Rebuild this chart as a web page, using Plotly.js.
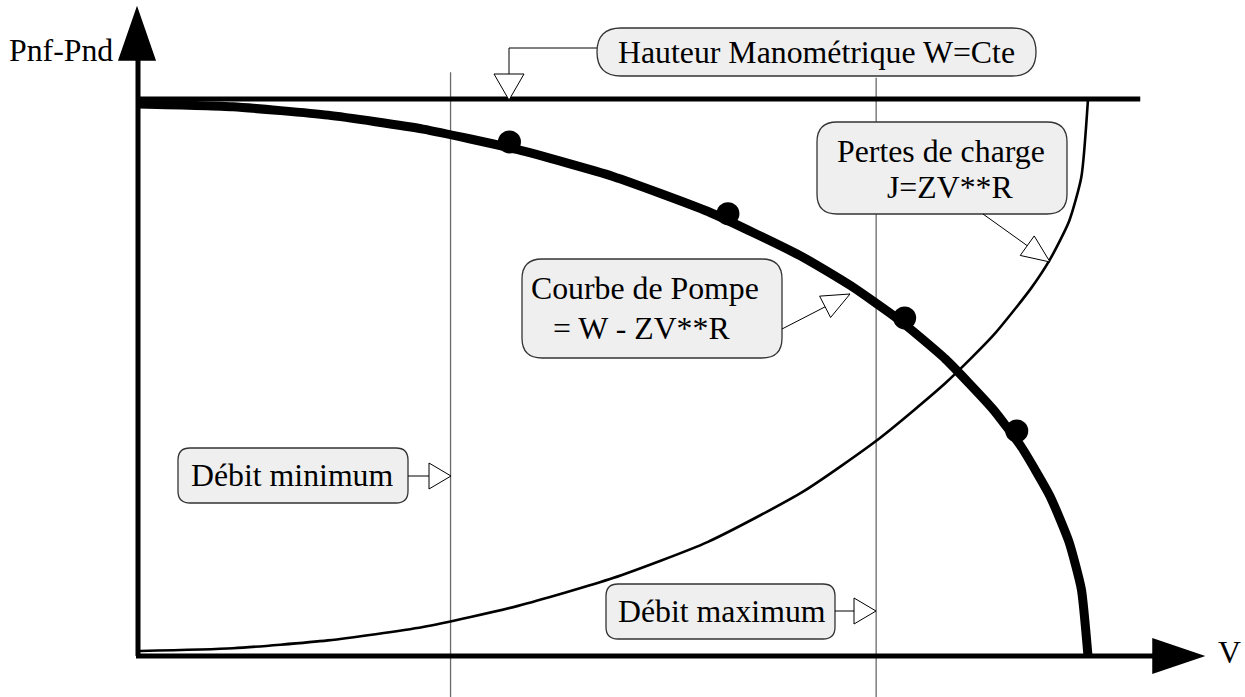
<!DOCTYPE html>
<html>
<head>
<meta charset="utf-8">
<script src="https://cdn.plot.ly/plotly-3.0.1.min.js"></script>
<style>html,body{margin:0;padding:0;background:#fff;}#chart{width:1245px;height:697px;}</style>
</head>
<body>
<div id="chart"></div>
<script>
// ---- Data (normalised: V = flow, P = Pnf-Pnd, W = 1) ----
const pumpV = [0, 0.1, 0.2, 0.3, 0.4, 0.5, 0.6, 0.7, 0.75, 0.8, 0.85, 0.9, 0.93, 0.96, 0.98, 0.993, 1.0];
const pumpP = [0.991, 0.986, 0.971, 0.946, 0.909, 0.861, 0.798, 0.716, 0.665, 0.605, 0.533, 0.443, 0.375, 0.287, 0.205, 0.12, 0.0];
const lossV = [0.002, 0.1, 0.2, 0.3, 0.4, 0.5, 0.6, 0.7, 0.78, 0.85, 0.9, 0.94, 0.96, 0.98, 0.993, 1.0];
const lossP = [0.009, 0.014, 0.028, 0.052, 0.09, 0.14, 0.205, 0.295, 0.39, 0.49, 0.575, 0.66, 0.712, 0.78, 0.86, 1.0];
const headV = [0, 1.055];
const headP = [1, 1];
const dotV = [0.391, 0.621, 0.807, 0.925];
const dotP = [0.923, 0.794, 0.607, 0.404];
const flowMin = 0.329;
const flowMax = 0.777;
const limMinP = [1.048, -0.1];
const limMaxP = [1.038, -0.1];

const labels = {
  yAxis: 'Pnf-Pnd',
  xAxis: 'V',
  head: 'Hauteur Manométrique W=Cte',
  loss1: 'Pertes de charge',
  loss2: 'J=ZV**R',
  pump1: 'Courbe de Pompe',
  pump2: '= W - ZV**R',
  qmin: 'Débit minimum',
  qmax: 'Débit maximum'
};

// ---- helpers for decoration geometry (overlay pixel axes x2/y2) ----
function rrect(x0, y0, x1, y1, r) {
  return `M ${x0 + r},${y0} L ${x1 - r},${y0} Q ${x1},${y0} ${x1},${y0 + r} L ${x1},${y1 - r} Q ${x1},${y1} ${x1 - r},${y1} L ${x0 + r},${y1} Q ${x0},${y1} ${x0},${y1 - r} L ${x0},${y0 + r} Q ${x0},${y0} ${x0 + r},${y0} Z`;
}
function tri(tx, ty, fx, fy, len, hw) {
  const dx = tx - fx, dy = ty - fy, d = Math.hypot(dx, dy);
  const ux = dx / d, uy = dy / d;
  const bx = tx - ux * len, by = ty - uy * len;
  const px = -uy * hw, py = ux * hw;
  return `M ${tx},${ty} L ${bx + px},${by + py} L ${bx - px},${by - py} Z`;
}
const deco = (o) => Object.assign({ xref: 'x2', yref: 'y2', layer: 'above' }, o);
const box = (x0, y0, x1, y1, r) => deco({ type: 'path', path: rrect(x0, y0, x1, y1, r), fillcolor: '#efefef', line: { color: '#333', width: 1.3 } });
const line = (x0, y0, x1, y1, w, c) => deco({ type: 'line', x0, y0, x1, y1, line: { color: c || '#000', width: w || 1 } });
const openTri = (tx, ty, fx, fy, len, hw) => deco({ type: 'path', path: tri(tx, ty, fx, fy, len, hw), fillcolor: '#fff', line: { color: '#000', width: 1 } });
const solidTri = (tx, ty, fx, fy, len, hw) => deco({ type: 'path', path: tri(tx, ty, fx, fy, len, hw), fillcolor: '#000', line: { color: '#000', width: 1.5 } });

const FONT = 'Liberation Serif, Times New Roman, serif';
const FS = 31.8;
const txt = (text, x, y, anchor) => ({
  text, x, y, xref: 'x2', yref: 'y2', showarrow: false,
  xanchor: anchor || 'center', yanchor: 'middle',
  font: { family: FONT, size: FS, color: '#000' }
});

const traces = [
  { x: [flowMin, flowMin], y: limMinP, mode: 'lines', line: { color: '#6a6a6a', width: 1.3 }, hoverinfo: 'skip' },
  { x: [flowMax, flowMax], y: limMaxP, mode: 'lines', line: { color: '#6a6a6a', width: 1.3 }, hoverinfo: 'skip' },
  { x: lossV, y: lossP, mode: 'lines', line: { color: '#000', width: 2.6, shape: 'spline', smoothing: 0.6 }, hoverinfo: 'skip' },
  { x: headV, y: headP, mode: 'lines', line: { color: '#000', width: 5 }, hoverinfo: 'skip' },
  { x: pumpV, y: pumpP, mode: 'lines', line: { color: '#000', width: 9, shape: 'spline', smoothing: 0.5 }, hoverinfo: 'skip' },
  { x: dotV, y: dotP, mode: 'markers', marker: { color: '#000', size: 23 }, hoverinfo: 'skip' },
  { x: [], y: [], xaxis: 'x2', yaxis: 'y2', mode: 'markers', hoverinfo: 'skip' }
];

const shapes = [
  // axes
  line(138, 656, 138, 56, 5),
  solidTri(137, 8, 137, 60, 52, 18),
  line(136, 656, 1160, 656, 5),
  solidTri(1203, 656, 1153, 656, 50, 17),
  // label boxes
  box(597, 28, 1036, 76, 24),
  box(817, 122, 1067, 214, 20),
  box(522, 259, 782, 358, 20),
  box(178, 448, 408, 503, 12),
  box(606, 584, 835, 639, 12),
  // leaders
  deco({ type: 'path', path: 'M 597,48 L 509,48 L 509,100', line: { color: '#000', width: 1 } }),
  openTri(509, 100, 509, 48, 26, 15),
  line(983, 214, 1050, 262, 1),
  openTri(1050, 262, 983, 214, 28, 12),
  line(782, 329, 850, 294, 1),
  openTri(850, 294, 782, 329, 28, 12),
  line(408, 476, 451, 476, 1),
  openTri(451, 476, 408, 476, 22, 13),
  line(835, 611, 876, 611, 1),
  openTri(876, 611, 835, 611, 22, 13)
];

const annotations = [
  txt(labels.yAxis, 7, 50, 'left'),
  txt(labels.xAxis, 1229, 652),
  txt(labels.head, 816, 52),
  txt(labels.loss1, 941, 151),
  txt(labels.loss2, 950, 187),
  txt(labels.pump1, 645, 288),
  txt(labels.pump2, 641, 328),
  txt(labels.qmin, 292, 475),
  txt(labels.qmax, 722, 611)
];

const X0 = 138, XS = 950, Y0 = 656, YS = 557, W = 1245, H = 697;
const layout = {
  width: W, height: H,
  margin: { l: 0, r: 0, t: 0, b: 0, pad: 0 },
  paper_bgcolor: '#fff', plot_bgcolor: '#fff',
  showlegend: false,
  xaxis: { range: [-X0 / XS, (W - X0) / XS], visible: false, fixedrange: true },
  yaxis: { range: [(Y0 - H) / YS, Y0 / YS], visible: false, fixedrange: true },
  xaxis2: { range: [0, W], overlaying: 'x', visible: false, fixedrange: true },
  yaxis2: { range: [H, 0], overlaying: 'y', visible: false, fixedrange: true },
  shapes, annotations,
  font: { family: FONT }
};

Plotly.newPlot('chart', traces, layout, { staticPlot: true, displayModeBar: false });
</script>
</body>
</html>
